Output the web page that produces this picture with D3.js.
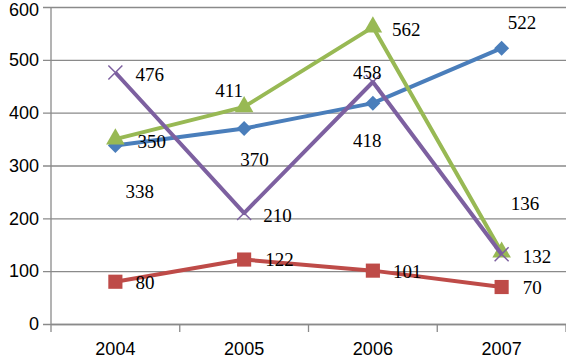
<!DOCTYPE html>
<html>
<head>
<meta charset="utf-8">
<script src="https://cdn.jsdelivr.net/npm/d3@7"></script>
<style>
  body { margin: 0; background: #fff; }
  svg { display: block; }
  .tick text { font-family: "Liberation Sans", Arial, sans-serif; font-size: 18px; fill: #000; }
  .label { font-family: "Liberation Serif", "Times New Roman", serif; font-size: 19px; fill: #000; }
</style>
</head>
<body>
<div id="chart"></div>
<script>
// values
const years = ['2004', '2005', '2006', '2007'];
const blueSeries = [338, 370, 418, 522];
const redSeries = [80, 122, 101, 70];
const greenSeries = [350, 411, 562, 136];
const purpleSeries = [476, 210, 458, 132];
const yTicks = [0, 100, 200, 300, 400, 500, 600];

const series = [
  {values: blueSeries, color: '#4a7ebb', marker: 'diamond'},
  {values: redSeries, color: '#be4b48', marker: 'square'},
  {values: greenSeries, color: '#98b954', marker: 'triangle'},
  {values: purpleSeries, color: '#7d60a0', marker: 'cross'}
];

// where the data labels sit relative to their point (label left edge, vertical centre)
const labelNudge = [
  [[10, 46], [-4, 31], [-20, 37], [6, -26]],
  [[20, 1], [21, 0], [20, 1], [21, 0]],
  [[22, 2], [-29, -17], [19, 2], [9, -49]],
  [[20, 2], [19, 2], [-20, -10], [21, 2]]
];

const margin = {top: 7, right: 0, bottom: 34, left: 51};
const width = 566 - margin.left - margin.right;
const height = 358 - margin.top - margin.bottom;

const svg = d3.select('#chart').append('svg')
    .attr('width', 566)
    .attr('height', 358);

const g = svg.append('g')
    .attr('transform', `translate(${margin.left},${margin.top})`);

const x = d3.scaleBand()
    .domain(years)
    .range([0, width]);

const y = d3.scaleLinear()
    .domain([0, 600])
    .range([height, 0]);

// gridlines and y axis
g.append('g')
    .call(d3.axisLeft(y).tickValues(yTicks).tickSize(-width - 8).tickPadding(12))
    .call(ax => ax.select('.domain').remove())
    .call(ax => ax.selectAll('.tick line')
        .attr('x1', -8)
        .attr('x2', width)
        .attr('stroke', '#8a8a8a')
        .attr('stroke-width', 1.3))
    .call(ax => ax.selectAll('.tick text')
        .attr('dy', d => d === 600 ? '0.45em' : '0.32em'));

g.append('line')
    .attr('x1', 0).attr('x2', 0)
    .attr('y1', 0).attr('y2', height)
    .attr('stroke', '#8a8a8a')
    .attr('stroke-width', 1.3);

// x axis with ticks between categories
const xAxis = g.append('g')
    .attr('transform', `translate(0,${height})`)
    .call(d3.axisBottom(x).tickSize(0).tickPadding(18));
xAxis.select('.domain')
    .attr('stroke', '#8a8a8a')
    .attr('stroke-width', 1.3);
xAxis.selectAll('.boundary')
  .data(d3.range(years.length + 1))
  .join('line')
    .attr('x1', i => i * x.bandwidth())
    .attr('x2', i => i * x.bandwidth())
    .attr('y1', 0)
    .attr('y2', 8)
    .attr('stroke', '#8a8a8a')
    .attr('stroke-width', 1.3);

const cx = i => x(years[i]) + x.bandwidth() / 2;

const line = d3.line()
    .x((d, i) => cx(i))
    .y(d => y(d));

const shapes = {
  diamond: () => 'M0,-7.5L7.5,0L0,7.5L-7.5,0Z',
  square: d3.symbol(d3.symbolSquare, 200),
  triangle: d3.symbol(d3.symbolTriangle, 150)
};

series.forEach(s => {
  const sg = g.append('g');
  sg.append('path')
      .attr('d', line(s.values))
      .attr('fill', 'none')
      .attr('stroke', s.color)
      .attr('stroke-width', 4)
      .attr('stroke-linejoin', 'round');

  const pts = sg.selectAll('.pt')
    .data(s.values)
    .join('g')
      .attr('transform', (d, i) => `translate(${cx(i)},${y(d)})`);

  if (s.marker === 'cross') {
    pts.append('path')
        .attr('d', 'M-7,-7L7,7M-7,7L7,-7')
        .attr('stroke', s.color)
        .attr('stroke-width', 1.5)
        .attr('fill', 'none');
  } else {
    pts.append('path')
        .attr('d', shapes[s.marker]())
        .attr('fill', s.color);
  }
});

series.forEach((s, si) => {
  g.append('g').selectAll('text')
    .data(s.values)
    .join('text')
      .attr('class', 'label')
      .attr('x', (d, i) => cx(i) + labelNudge[si][i][0])
      .attr('y', (d, i) => y(d) + labelNudge[si][i][1])
      .attr('dy', '0.35em')
      .text(d => d);
});
</script>
</body>
</html>
